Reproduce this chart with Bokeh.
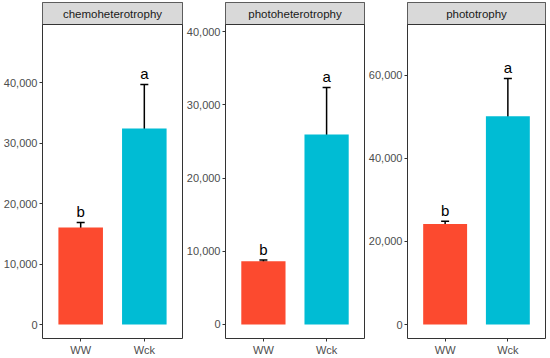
from bokeh.plotting import figure
from bokeh.layouts import row
from bokeh.models import (ColumnDataSource, Whisker, TeeHead, BoxAnnotation, Span,
                          FixedTicker, NumeralTickFormatter, Range1d)
from bokeh.core.properties import value
from bokeh.embed import file_html
from bokeh.resources import INLINE

# ---- data ----
groups = ["WW", "Wck"]
panels = ["chemoheterotrophy", "photoheterotrophy", "phototrophy"]
means = {
    "chemoheterotrophy": [16030, 32400],
    "photoheterotrophy": [8650, 25960],
    "phototrophy": [24200, 50130],
}
errs = {
    "chemoheterotrophy": [830, 7270],
    "photoheterotrophy": [150, 6420],
    "phototrophy": [650, 9100],
}
letters = {
    "chemoheterotrophy": ["b", "a"],
    "photoheterotrophy": ["b", "a"],
    "phototrophy": ["b", "a"],
}
y_ticks = {
    "chemoheterotrophy": [0, 10000, 20000, 30000, 40000],
    "photoheterotrophy": [0, 10000, 20000, 30000, 40000],
    "phototrophy": [0, 20000, 40000, 60000],
}
y_limits = {
    "chemoheterotrophy": (-2314, 49587),
    "photoheterotrophy": (-1913, 40984),
    "phototrophy": (-3369, 72202),
}
bar_colors = ["#FC4A2F", "#00BCD4"]

# ---- layout/style ----
FONT = "Liberation Sans"
frame_widths = [140, 139, 138]
left_borders = [42, 39, 42]
right_borders = [1, 1, 2]
PANEL_H = 314
STRIP_H = 22

xpos = [i + 1 for i in range(len(groups))]  # discrete positions of the groups

figs = []
for i, name in enumerate(panels):
    lo, hi = y_limits[name]
    ext = (hi - lo) * STRIP_H / PANEL_H
    m = means[name]
    e = errs[name]
    src = ColumnDataSource(dict(
        x=xpos, top=m,
        upper=[a + b for a, b in zip(m, e)],
        lower=[a - b for a, b in zip(m, e)],
        color=bar_colors, lab=letters[name],
    ))
    p = figure(x_range=Range1d(xpos[0] - 0.6, xpos[-1] + 0.6),
               y_range=Range1d(lo, hi + ext),
               frame_width=frame_widths[i], frame_height=PANEL_H + STRIP_H,
               min_border_left=left_borders[i], min_border_right=right_borders[i],
               min_border_top=2, min_border_bottom=18,
               output_backend="svg", toolbar_location=None)
    p.background_fill_color = "white"
    p.border_fill_color = "white"
    p.outline_line_color = "#333333"
    p.outline_line_width = 1
    p.xgrid.visible = False
    p.ygrid.visible = False

    # facet strip
    p.add_layout(BoxAnnotation(bottom=hi, fill_color="#D9D9D9", fill_alpha=1,
                               line_color=None, level="underlay"))
    p.add_layout(Span(location=hi, dimension="width", line_color="#333333",
                      line_width=1, level="underlay"))

    p.vbar(x="x", top="top", bottom=0, width=0.7, source=src,
           fill_color="color", line_color=None)
    w = Whisker(base="x", upper="upper", lower="lower", source=src,
                line_color="black", line_width=1.5,
                upper_head=TeeHead(size=8, line_color="black", line_width=1.5),
                lower_head=TeeHead(size=8, line_color="black", line_width=1.5))
    p.add_layout(w)
    p.text(x="x", y="upper", text="lab", source=src, y_offset=-2,
           text_align="center", text_baseline="bottom",
           text_font=value(FONT), text_font_size="15px", text_color="black")

    p.text(x=[(xpos[0] + xpos[-1]) / 2], y=[hi + ext / 2], text=[name],
           text_align="center", text_baseline="middle", text_font=value(FONT),
           text_font_size="11.5px", text_color="#1A1A1A")

    # axes
    p.xaxis.ticker = FixedTicker(ticks=xpos)
    p.xaxis.major_label_overrides = {x: g for x, g in zip(xpos, groups)}
    p.yaxis.ticker = FixedTicker(ticks=y_ticks[name])
    p.yaxis.formatter = NumeralTickFormatter(format="0,0")
    for ax in (p.xaxis[0], p.yaxis[0]):
        ax.axis_line_color = None
        ax.major_tick_line_color = "#333333"
        ax.major_tick_in = 0
        ax.major_tick_out = 3
        ax.minor_tick_line_color = None
        ax.major_label_text_font = FONT
        ax.major_label_text_font_size = "11px"
        ax.major_label_text_color = "#4D4D4D"
        ax.major_label_standoff = 2
    figs.append(p)

layout = row(*figs)

open("out.html", "w").write(file_html(layout, INLINE))
